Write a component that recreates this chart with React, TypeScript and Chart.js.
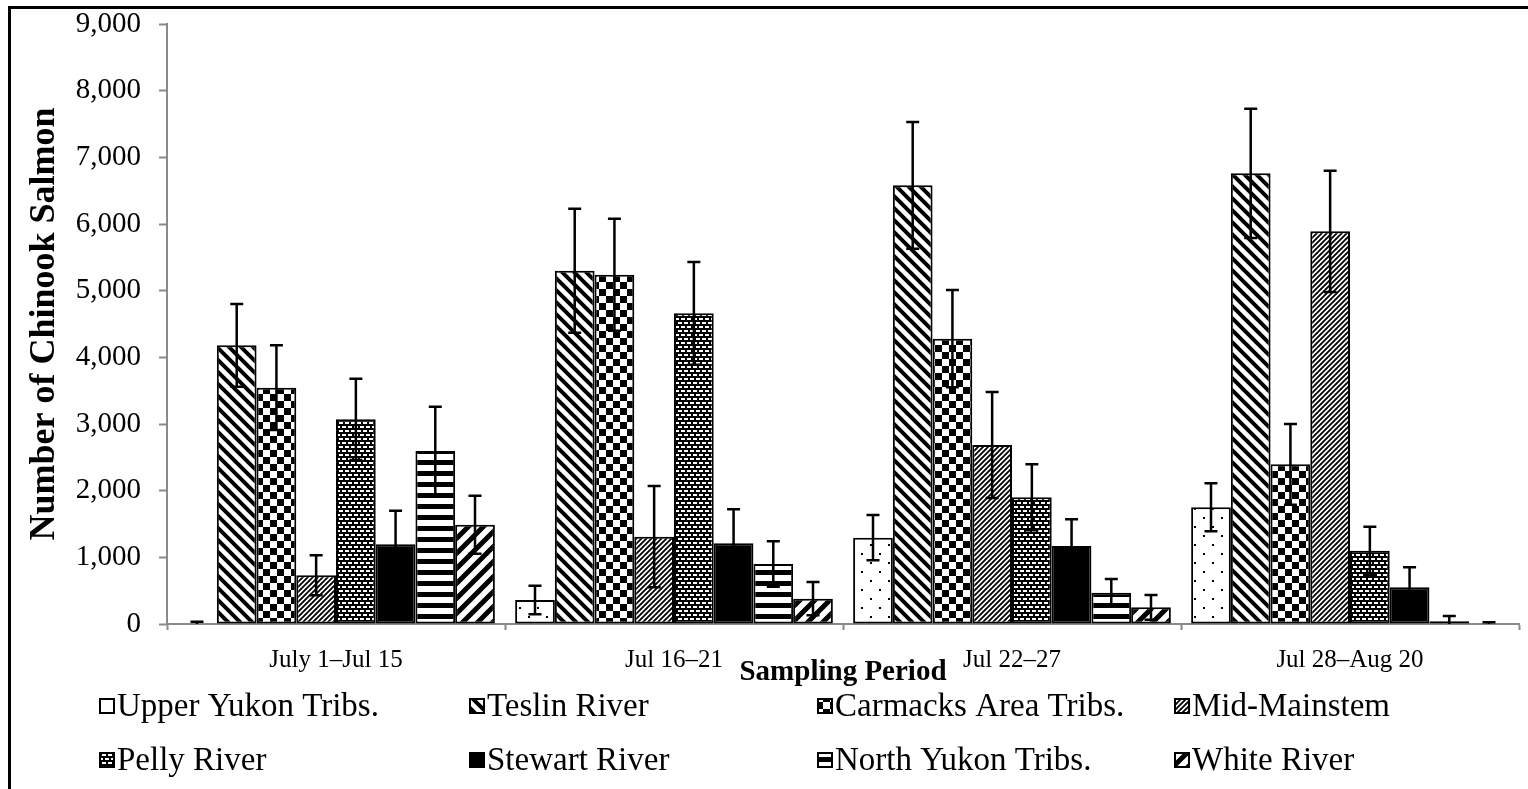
import React, { useEffect, useRef } from 'react';
import { Chart, registerables } from 'chart.js';

Chart.register(...registerables);

// Sampling periods (x categories)
const periods = ['July 1–Jul 15', 'Jul 16–21', 'Jul 22–27', 'Jul 28–Aug 20'];

// Stock groups, in drawing order
const stockNames = [
  'Upper Yukon Tribs.',
  'Teslin River',
  'Carmacks Area Tribs.',
  'Mid-Mainstem',
  'Pelly River',
  'Stewart River',
  'North Yukon Tribs.',
  'White River',
];

// Estimated numbers of Chinook salmon per period
const upperYukon = [0, 360, 1295, 1750];
const teslin = [4180, 5300, 6580, 6760];
const carmacks = [3545, 5240, 4280, 2395];
const midMainstem = [730, 1310, 2685, 5890];
const pelly = [3070, 4660, 1900, 1100];
const stewart = [1195, 1210, 1170, 550];
const northYukon = [2595, 900, 470, 40];
const whiteRiver = [1490, 380, 250, 0];

// Standard errors (symmetric)
const upperYukonErr = [35, 215, 340, 360];
const teslinErr = [620, 930, 950, 970];
const carmacksErr = [635, 840, 730, 605];
const midMainstemErr = [300, 760, 795, 910];
const pellyErr = [610, 770, 495, 360];
const stewartErr = [505, 510, 400, 300];
const northYukonErr = [665, 340, 205, 80];
const whiteRiverErr = [435, 250, 185, 25];

// Y axis ticks
const yTickValues = [0, 1000, 2000, 3000, 4000, 5000, 6000, 7000, 8000, 9000];

const FONT = "'Liberation Serif', 'Times New Roman', serif";

// ---- fill patterns ----
function tile(w: number, h: number, paint: (g: CanvasRenderingContext2D) => void): CanvasPattern {
  const c = document.createElement('canvas');
  c.width = w;
  c.height = h;
  const g = c.getContext('2d')!;
  g.fillStyle = '#fff';
  g.fillRect(0, 0, w, h);
  paint(g);
  return g.createPattern(c, 'repeat')!;
}

function diagonal(size: number, lw: number, dir: 'back' | 'fwd'): CanvasPattern {
  return tile(size, size, (g) => {
    g.strokeStyle = '#000';
    g.lineWidth = lw;
    g.lineCap = 'square';
    g.beginPath();
    for (let k = -1; k <= 1; k++) {
      if (dir === 'back') {
        g.moveTo(k * size, 0);
        g.lineTo(k * size + size, size);
      } else {
        g.moveTo(k * size, size);
        g.lineTo(k * size + size, 0);
      }
    }
    g.stroke();
  });
}

function makeFills(): (CanvasPattern | string)[] {
  const dots = tile(18, 18, (g) => {
    g.fillStyle = '#000';
    g.fillRect(4, 4, 2, 2);
    g.fillRect(13, 13, 2, 2);
  });
  const teslinFill = diagonal(12, 4, 'back');
  const checker = tile(14, 14, (g) => {
    g.fillStyle = '#000';
    g.fillRect(0, 0, 7, 7);
    g.fillRect(7, 7, 7, 7);
  });
  const fineFwd = diagonal(5, 1.8, 'fwd');
  const bricks = tile(12, 8, (g) => {
    g.fillStyle = '#000';
    g.fillRect(0, 0, 12, 8);
    g.fillStyle = '#fff';
    g.fillRect(1, 1, 4, 2);
    g.fillRect(7, 1, 4, 2);
    g.fillRect(4, 5, 4, 2);
    g.fillRect(10, 5, 2, 2);
    g.fillRect(0, 5, 2, 2);
  });
  const horiz = tile(4, 11, (g) => {
    g.fillStyle = '#000';
    g.fillRect(0, 0, 4, 5);
  });
  const wideFwd = diagonal(15, 5, 'fwd');
  return [dots, teslinFill, checker, fineFwd, bricks, '#000', horiz, wideFwd];
}

// ---- legend in a fixed 4-column grid ----
const legendColumns = [89, 459, 807, 1164];
const legendRows = [697, 751];
const legendFontSize = 33;

const gridLegend = {
  id: 'gridLegend',
  afterDraw(chart: any) {
    const ctx: CanvasRenderingContext2D = chart.ctx;
    ctx.save();
    ctx.font = `${legendFontSize}px ${FONT}`;
    ctx.textBaseline = 'middle';
    ctx.textAlign = 'left';
    chart.data.datasets.forEach((ds: any, i: number) => {
      const x = legendColumns[i % 4];
      const y = legendRows[Math.floor(i / 4)];
      ctx.fillStyle = ds.backgroundColor;
      ctx.fillRect(x, y - 7, 14, 14);
      ctx.strokeStyle = '#000';
      ctx.lineWidth = 2;
      ctx.strokeRect(x, y - 7, 14, 14);
      ctx.fillStyle = '#000';
      ctx.fillText(ds.label, x + 17, y + 1);
    });
    ctx.restore();
  },
};

// ---- symmetric error bars with caps ----
const errorBars = {
  id: 'errorBars',
  afterDatasetsDraw(chart: any) {
    const ctx: CanvasRenderingContext2D = chart.ctx;
    const yScale = chart.scales.y;
    const cap = 6.5;
    ctx.save();
    ctx.strokeStyle = '#000';
    ctx.lineWidth = 2.5;
    chart.data.datasets.forEach((ds: any, i: number) => {
      const meta = chart.getDatasetMeta(i);
      meta.data.forEach((bar: any, j: number) => {
        const e = ds.errors[j];
        if (!e) return;
        const v = ds.data[j];
        const x = bar.x;
        const hi = yScale.getPixelForValue(v + e);
        const lowVal = v - e;
        const lo = yScale.getPixelForValue(Math.max(0, lowVal));
        ctx.beginPath();
        ctx.moveTo(x, lo);
        ctx.lineTo(x, hi);
        ctx.moveTo(x - cap, hi);
        ctx.lineTo(x + cap, hi);
        if (lowVal > 0) {
          ctx.moveTo(x - cap, lo);
          ctx.lineTo(x + cap, lo);
        }
        ctx.stroke();
      });
    });
    ctx.restore();
  },
};

export default function App() {
  const canvasRef = useRef<HTMLCanvasElement | null>(null);

  useEffect(() => {
    const canvas = canvasRef.current;
    if (!canvas) return;
    const fills = makeFills();
    const values = [upperYukon, teslin, carmacks, midMainstem, pelly, stewart, northYukon, whiteRiver];
    const errs = [upperYukonErr, teslinErr, carmacksErr, midMainstemErr, pellyErr, stewartErr, northYukonErr, whiteRiverErr];
    const axisGray = '#8a8a8a';

    const chart = new Chart(canvas, {
      type: 'bar',
      data: {
        labels: periods,
        datasets: stockNames.map((name, i) => ({
          label: name,
          data: values[i],
          errors: errs[i],
          backgroundColor: fills[i],
          borderColor: '#000',
          borderWidth: 2,
          borderSkipped: false,
          categoryPercentage: 0.94,
          barPercentage: 1.0,
        })) as any,
      },
      options: {
        responsive: false,
        animation: false,
        events: [],
        layout: { padding: { left: 0, top: 15, right: 9, bottom: 99 } },
        plugins: {
          legend: { display: false },
          tooltip: { enabled: false },
          title: { display: false },
        },
        scales: {
          x: {
            offset: true,
            grid: {
              offset: true,
              drawOnChartArea: false,
              drawTicks: true,
              tickLength: 6,
              tickColor: axisGray,
              tickWidth: 2,
            },
            border: { display: true, color: axisGray, width: 2 },
            ticks: {
              color: '#000',
              font: { family: FONT, size: 25, lineHeight: 1.2 },
              padding: 15,
              maxRotation: 0,
              autoSkip: false,
            },
            title: {
              display: true,
              text: 'Sampling Period',
              color: '#000',
              font: { family: FONT, size: 29, weight: 'bold', lineHeight: 1.2 },
              padding: { top: 0, bottom: 0 },
            },
            afterFit(scale: any) {
              scale.height = 66;
            },
          },
          y: {
            min: 0,
            max: 9000,
            afterBuildTicks(scale: any) {
              scale.ticks = yTickValues.map((v) => ({ value: v }));
            },
            grid: {
              drawOnChartArea: false,
              drawTicks: true,
              tickLength: 8,
              tickColor: axisGray,
              tickWidth: 2,
            },
            border: { display: true, color: axisGray, width: 2 },
            ticks: {
              color: '#000',
              font: { family: FONT, size: 29, lineHeight: 1 },
              padding: 18,
              callback: (v: any) => Number(v).toLocaleString('en-US'),
            },
            title: {
              display: true,
              text: 'Number of Chinook Salmon',
              color: '#000',
              font: { family: FONT, size: 36, weight: 'bold', lineHeight: 1.2 },
              padding: { top: 12, bottom: 0 },
            },
            afterFit(scale: any) {
              scale.width = 156;
              scale.paddingTop = 0;
              scale.paddingBottom = 0;
            },
          },
        },
      } as any,
      plugins: [errorBars, gridLegend],
    });

    return () => chart.destroy();
  }, []);

  return (
    <div
      style={{
        position: 'fixed',
        left: 8,
        top: 6,
        width: 1520,
        height: 783,
        borderTop: '3px solid #000',
        borderLeft: '3px solid #000',
        boxSizing: 'border-box',
        background: '#fff',
      }}
    >
      <canvas ref={canvasRef} width={1517} height={780} style={{ display: 'block' }} />
    </div>
  );
}
